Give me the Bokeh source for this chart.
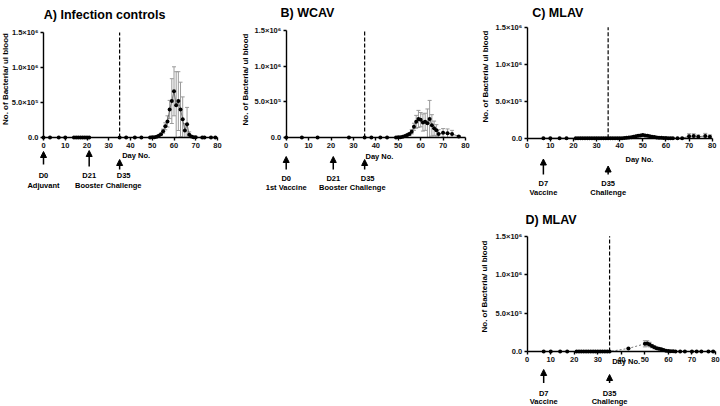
import math
from bokeh.plotting import figure
from bokeh.layouts import column, row
from bokeh.models import (Range1d, FixedTicker, Label, Arrow, NormalHead, Whisker,
                          TeeHead, ColumnDataSource, Spacer)
from bokeh.embed import file_html
from bokeh.resources import INLINE

# ---------------- data (means and SD in units of 10^5 bacteria / ul) ----------------
UNIT = 1e5

days_a = [0, 3, 7, 10, 14, 15, 16, 17, 18, 19, 20, 21, 35, 38, 42, 45, 49,
          50, 51, 52, 53, 54, 55, 56, 57, 58, 59, 60, 61, 62, 63, 64, 65, 66, 67, 68, 69, 70,
          73, 74, 77, 79]
mean_a = [0, 0, 0, 0, 0, 0, 0, 0, 0, 0, 0, 0, 0, 0, 0, 0, 0,
          0.02, 0.05, 0.12, 0.25, 0.45, 0.9, 1.6, 2.3, 4.0, 5.2, 6.6, 4.6, 5.2, 4.0, 2.6, 1.0, 1.9, 0.4, 0.15, 0.05, 0.02,
          0, 0, 0, 0]
sd_a = [0, 0, 0, 0, 0, 0, 0, 0, 0, 0, 0, 0, 0, 0, 0, 0, 0,
        0, 0, 0, 0.05, 0.1, 0.3, 0.5, 0.8, 1.3, 3.2, 3.5, 4.8, 4.2, 3.9, 3.2, 1.0, 2.4, 0.4, 0.1, 0, 0,
        0, 0, 0, 0]

days_b = [0, 7, 14, 28, 35, 38, 42, 45,
          49, 50, 51, 52, 53, 54, 55, 56, 57, 58, 59, 60, 61, 62, 63, 64, 65, 66, 67, 68,
          70, 72, 74, 77]
mean_b = [0, 0, 0, 0, 0, 0, 0, 0,
          0, 0.02, 0.05, 0.1, 0.2, 0.35, 0.5, 0.8, 1.5, 2.2, 2.6, 2.5, 2.1, 2.2, 2.0, 2.6, 1.7, 1.3, 1.0, 0.5,
          0.65, 0.6, 0.5, 0.15]
sd_b = [0, 0, 0, 0, 0, 0, 0, 0,
        0, 0, 0, 0.02, 0.05, 0.1, 0.2, 0.3, 0.5, 0.9, 1.2, 1.0, 1.2, 1.2, 2.0, 2.6, 1.5, 1.0, 0.8, 0.6,
        0.6, 0.6, 0.5, 0.1]

days_c = [7, 10, 14, 17,
          21, 22, 23, 24, 25, 26, 27, 28, 29, 30, 31, 32, 33, 34, 35, 36, 37, 38, 39, 40,
          41, 42, 43, 44, 45, 46, 47, 48, 49, 50, 51, 52, 53, 54, 55, 56, 57, 58, 59, 60, 61, 62, 63,
          65, 67, 70, 72, 74, 77, 79]
mean_c = [0, 0, 0, 0,
          0, 0, 0, 0, 0, 0, 0, 0, 0, 0, 0, 0, 0, 0, 0, 0, 0, 0, 0, 0,
          0.01, 0.03, 0.05, 0.08, 0.12, 0.18, 0.25, 0.32, 0.38, 0.42, 0.38, 0.32, 0.26, 0.2, 0.15, 0.1,
          0.07, 0.05, 0.03, 0.02, 0.01, 0.01, 0,
          0, 0, 0.25, 0.3, 0.2, 0.3, 0.2]
sd_c = [0, 0, 0, 0,
        0, 0, 0, 0, 0, 0, 0, 0, 0, 0, 0, 0, 0, 0, 0, 0, 0, 0, 0, 0,
        0, 0, 0.02, 0.03, 0.05, 0.08, 0.1, 0.12, 0.12, 0.12, 0.1, 0.1, 0.08, 0.06, 0.05, 0.04,
        0.03, 0.02, 0.01, 0, 0, 0, 0,
        0, 0, 0.35, 0.3, 0.25, 0.35, 0.25]

days_d = [7, 10, 14, 17,
          21, 22, 23, 24, 25, 26, 27, 28, 29, 30, 31, 32, 33, 34, 35,
          43,
          50, 51, 52, 53, 54, 55, 56, 57, 58, 59, 60, 61, 62, 63,
          65, 67, 70, 72, 74, 77, 79]
mean_d = [0, 0, 0, 0,
          0, 0, 0, 0, 0, 0, 0, 0, 0, 0, 0, 0, 0, 0, 0,
          0.4,
          1.0, 1.05, 0.9, 0.7, 0.55, 0.42, 0.35, 0.28, 0.18, 0.1, 0.05, 0.03, 0.02, 0.01,
          0, 0, 0, 0, 0, 0, 0]
sd_d = [0, 0, 0, 0,
        0, 0, 0, 0, 0, 0, 0, 0, 0, 0, 0, 0, 0, 0, 0,
        0.05,
        0.4, 0.35, 0.3, 0.22, 0.2, 0.15, 0.15, 0.1, 0.08, 0.05, 0.03, 0.02, 0.01, 0,
        0, 0, 0, 0, 0, 0, 0]

titles = ["A) Infection controls", "B) WCAV", "C) MLAV", "D) MLAV"]

ev_days_a = [0, 21, 35]
ev_names_a = ["D0", "D21", "D35"]
ev_desc_a = ["Adjuvant", "Booster", "Challenge"]
ev_days_b = [0, 21, 35]
ev_names_b = ["D0", "D21", "D35"]
ev_desc_b = ["1st Vaccine", "Booster", "Challenge"]
ev_days_c = [7, 35]
ev_names_c = ["D7", "D35"]
ev_desc_c = ["Vaccine", "Challenge"]
ev_days_d = [7, 35]
ev_names_d = ["D7", "D35"]
ev_desc_d = ["Vaccine", "Challenge"]

challenge_day = 35
x_ticks = [0, 10, 20, 30, 40, 50, 60, 70, 80]
y_ticks = [0, 500000, 1000000, 1500000]
y_tick_labels = ["0.0", "5.0×10⁵", "1.0×10⁶", "1.5×10⁶"]
y_label = "No. of Bacteria/ ul blood"
x_label = "Day No."

# ---------------- layout (page pixel positions) ----------------
FONT = "Liberation Sans"
specs = {
    "A": dict(fig=(0, 0, 236, 200), axis=(43, 217, 137, 32), title=(43.3, 14.3),
              ylab=(4.5, 78.5), dayno=(121.7, 155), arrows=[(151, 164), (150, 166), (159, 169)],
              rows=(175, 185), ev_dx=[0, 0, 4]),
    "B": dict(fig=(236, 0, 234, 200), axis=(285.7, 465, 137, 30), title=(280, 12),
              ylab=(245, 79), dayno=(365, 155.7), arrows=[(156, 169), (156, 169), (159, 169)],
              rows=(178, 187), ev_dx=[0, 0, 3]),
    "C": dict(fig=(470, 0, 250, 200), axis=(526.7, 711.7, 137.7, 26.7), title=(531.7, 12),
              ylab=(485, 76), dayno=(625, 159.3), arrows=[(158.5, 174), (165.5, 174)],
              rows=(183.3, 192.3), ev_dx=[0, 0]),
    "D": dict(fig=(470, 200, 250, 206), axis=(526.7, 715, 351, 235.7), title=(525, 219.3),
              ylab=(484, 286), dayno=(611.7, 361), arrows=[(369, 382.5), (374, 382.5)],
              rows=(392.7, 400.5), ev_dx=[0, 0]),
}


def make_panel(spec, title, days, mean, sd, ev_days, ev_names, ev_desc, line_dash="solid"):
    assert len(days) == len(mean) == len(sd)
    fx, fy, W, H = spec["fig"]
    x0px, x80px, y0px, y15px = spec["axis"]
    kx = (x80px - x0px) / x_ticks[-1]
    ky = (y0px - y15px) / y_ticks[-1]
    # the frame covers the whole figure; ranges chosen so that the axes land where they should
    xs, xe = (fx - x0px) / kx, (fx + W - x0px) / kx
    ys, ye = (y0px - (fy + H)) / ky, (y0px - fy) / ky

    p = figure(width=W, height=H, x_range=Range1d(xs, xe), y_range=Range1d(ys, ye),
               output_backend="svg", toolbar_location=None, title=None,
               min_border_left=0, min_border_right=0, min_border_top=0, min_border_bottom=0)
    p.outline_line_color = None
    p.grid.visible = False
    p.background_fill_color = "white"
    p.border_fill_color = "white"

    for ax in (p.xaxis[0], p.yaxis[0]):
        ax.fixed_location = 0
        ax.axis_line_width = 1.4
        ax.axis_line_color = "black"
        ax.major_tick_line_width = 1.4
        ax.major_tick_line_color = "black"
        ax.major_tick_out = 3
        ax.major_tick_in = 0
        ax.minor_tick_line_color = None
        ax.major_label_text_font = FONT
        ax.major_label_text_font_style = "bold"
        ax.major_label_text_font_size = "7.5px"
        ax.major_label_text_color = "#111111"
        ax.major_label_standoff = 2
    p.xaxis.ticker = FixedTicker(ticks=x_ticks)
    p.xaxis.bounds = (x_ticks[0], x_ticks[-1])
    p.yaxis.ticker = FixedTicker(ticks=y_ticks)
    p.yaxis.bounds = (y_ticks[0], y_ticks[-1])
    p.yaxis.major_label_overrides = dict(zip(y_ticks, y_tick_labels))

    # challenge line
    p.segment(x0=[challenge_day], y0=[0], x1=[challenge_day], y1=[y_ticks[-1]],
              line_color="black", line_width=1.2, line_dash="4 2")

    ym = [m * UNIT for m in mean]
    src = ColumnDataSource(dict(x=days, y=ym))
    p.line("x", "y", source=src, line_color="#555555", line_width=0.8, line_dash=line_dash)

    ex = [d for d, s in zip(days, sd) if s > 0]
    eu = [(m + s) * UNIT for m, s in zip(mean, sd) if s > 0]
    el = [max(0.0, m - s) * UNIT for m, s in zip(mean, sd) if s > 0]
    esrc = ColumnDataSource(dict(x=ex, upper=eu, lower=el))
    p.add_layout(Whisker(source=esrc, base="x", upper="upper", lower="lower", dimension="height",
                         line_color="#9a9a9a", line_width=1,
                         upper_head=TeeHead(size=4, line_color="#9a9a9a", line_width=1),
                         lower_head=TeeHead(size=4, line_color="#9a9a9a", line_width=1)))

    p.scatter("x", "y", source=src, size=4, line_width=0, color="black")

    # title
    tx, ty = spec["title"]
    p.add_layout(Label(x=0, y=0, x_offset=tx - x0px, y_offset=y0px - ty, text=title,
                       text_font=FONT, text_font_style="bold", text_font_size="12.5px",
                       text_align="left", text_baseline="middle", text_color="black"))
    # y axis label
    lx, ly = spec["ylab"]
    p.add_layout(Label(x=0, y=0, x_offset=lx - x0px, y_offset=y0px - ly, text=y_label,
                       angle=math.pi / 2, text_font=FONT, text_font_style="bold",
                       text_font_size="8px", text_align="center", text_baseline="middle",
                       text_color="black"))
    # Day No.
    dx, dy = spec["dayno"]
    p.add_layout(Label(x=0, y=0, x_offset=dx - x0px, y_offset=y0px - dy, text=x_label,
                       text_font=FONT, text_font_style="bold", text_font_size="7.5px",
                       text_align="left", text_baseline="middle", text_color="black"))
    # events
    r1, r2 = spec["rows"]
    for d, nm, ds, (tip, tail), off in zip(ev_days, ev_names, ev_desc, spec["arrows"], spec["ev_dx"]):
        p.add_layout(Arrow(x_start=d, x_end=d, y_start=-(tail - y0px) / ky, y_end=-(tip - y0px) / ky,
                           line_color="black", line_width=1.5,
                           end=NormalHead(size=6, fill_color="black", line_color="black",
                                          line_width=1)))
        for txt, rr in ((nm, r1), (ds, r2)):
            p.add_layout(Label(x=d, y=0, x_offset=off, y_offset=y0px - rr, text=txt,
                               text_font=FONT, text_font_style="bold", text_font_size="7.5px",
                               text_align="center", text_baseline="middle", text_color="black"))
    return p


pA = make_panel(specs["A"], titles[0], days_a, mean_a, sd_a, ev_days_a, ev_names_a, ev_desc_a)
pB = make_panel(specs["B"], titles[1], days_b, mean_b, sd_b, ev_days_b, ev_names_b, ev_desc_b)
pC = make_panel(specs["C"], titles[2], days_c, mean_c, sd_c, ev_days_c, ev_names_c, ev_desc_c)
pD = make_panel(specs["D"], titles[3], days_d, mean_d, sd_d, ev_days_d, ev_names_d, ev_desc_d,
                line_dash="2 2")

top_row = row(pA, pB, pC, spacing=0)
bottom_row = row(Spacer(width=470, height=206), pD, spacing=0)
layout = column(top_row, bottom_row, spacing=0)

open("out.html", "w").write(file_html(layout, INLINE))
